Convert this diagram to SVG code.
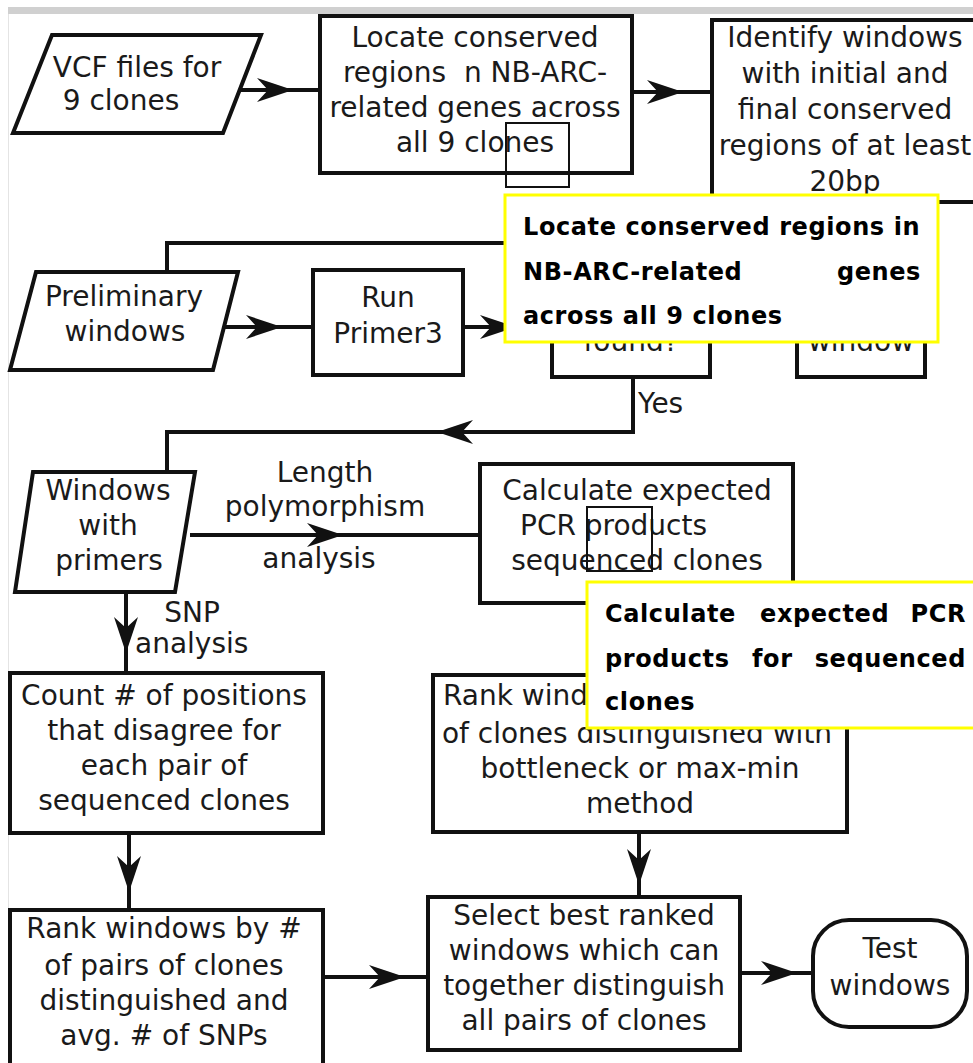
<svg xmlns="http://www.w3.org/2000/svg" xmlns:xlink="http://www.w3.org/1999/xlink" width="973" height="1063" viewBox="0 0 973 1063">
<style>
.n{fill:#fff;stroke:#111;stroke-width:4;stroke-linejoin:miter}
.t{font-family:"DejaVu Sans","Liberation Sans",sans-serif;font-size:28px;fill:#1a1a1a;text-anchor:middle}
.ts{text-anchor:start}
.c{fill:none;stroke:#111;stroke-width:4}
.hl{fill:none;stroke:#111;stroke-width:2}
.tip{fill:#fff;stroke:#ffff00;stroke-width:3}
.tt{font-family:"DejaVu Sans","Liberation Sans",sans-serif;font-weight:bold;font-size:24px;letter-spacing:0.6px;fill:#000}
.e{text-anchor:end}
</style>
<defs>
<path id="ah" d="M0,0 L-36,-12 L-25,0 L-36,12 Z" fill="#111"/>
</defs>
<rect width="973" height="1063" fill="#fff"/>
<rect x="8" y="7" width="965" height="7" fill="#d0d0d0"/>
<line x1="8.5" y1="14" x2="8.5" y2="1063" stroke="#e4e4e4" stroke-width="1"/>

<g id="connectors">
<path class="c" d="M240,90 H320"/>
<path class="c" d="M632,92 H712"/>
<path class="c" d="M847,202 V243 H167 V272"/>
<path class="c" d="M224,327 H313"/>
<path class="c" d="M463,327 H552"/>
<path class="c" d="M633,377 V432 H167 V472"/>
<path class="c" d="M190,535 H480"/>
<path class="c" d="M126,592 V673"/>
<path class="c" d="M129,833 V910"/>
<path class="c" d="M323,977 H428"/>
<path class="c" d="M639,832 V897"/>
<path class="c" d="M740,973 H813"/>
<use xlink:href="#ah" transform="translate(293,90)"/>
<use xlink:href="#ah" transform="translate(683,92)"/>
<use xlink:href="#ah" transform="translate(282,327)"/>
<use xlink:href="#ah" transform="translate(516,327)"/>
<use xlink:href="#ah" transform="translate(437,432) rotate(180)"/>
<use xlink:href="#ah" transform="translate(343,535)"/>
<use xlink:href="#ah" transform="translate(126,653) rotate(90)"/>
<use xlink:href="#ah" transform="translate(129,892) rotate(90)"/>
<use xlink:href="#ah" transform="translate(405,977)"/>
<use xlink:href="#ah" transform="translate(639,885) rotate(90)"/>
<use xlink:href="#ah" transform="translate(797,973)"/>
<text class="t ts" x="638" y="413">Yes</text>
<text class="t" x="325" y="482">Length</text>
<text class="t" x="325" y="516">polymorphism</text>
<text class="t" x="319" y="568">analysis</text>
<text class="t" x="192" y="622">SNP</text>
<text class="t ts" x="135" y="653">analysis</text>
</g>

<g id="vcf">
<path class="n" d="M52,35 L261,35 L223,133 L13,133 Z"/>
<text class="t" x="137" y="77">VCF files for</text>
<text class="t" x="121" y="110">9 clones</text>
</g>

<g id="locate">
<rect class="n" x="320" y="16" width="312" height="157"/>
<text class="t" x="475" y="47">Locate conserved</text>
<text class="t" x="475" y="82" xml:space="preserve">regions  n NB-ARC-</text>
<text class="t" x="475" y="117">related genes across</text>
<text class="t" x="475" y="152">all 9 clones</text>
</g>

<g id="identify">
<rect class="n" x="712" y="20" width="300" height="182"/>
<text class="t" x="845" y="47">Identify windows</text>
<text class="t" x="845" y="83">with initial and</text>
<text class="t" x="845" y="119">final conserved</text>
<text class="t" x="845" y="155">regions of at least</text>
<text class="t" x="845" y="191">20bp</text>
</g>

<g id="preliminary">
<path class="n" d="M36,272 L238,272 L213,370 L10,370 Z"/>
<text class="t" x="124" y="306">Preliminary</text>
<text class="t" x="125" y="341">windows</text>
</g>

<g id="primer3">
<rect class="n" x="313" y="270" width="150" height="105"/>
<text class="t" x="388" y="307">Run</text>
<text class="t" x="388" y="343">Primer3</text>
</g>

<g id="found">
<rect class="n" x="552" y="290" width="158" height="87"/>
<text class="t" x="631" y="351">found?</text>
</g>

<g id="window">
<rect class="n" x="797" y="290" width="128" height="87"/>
<text class="t" x="861" y="351">window</text>
</g>

<g id="withprimers">
<path class="n" d="M33,472 L195,472 L175,592 L15,592 Z"/>
<text class="t" x="108" y="500">Windows</text>
<text class="t" x="108" y="535">with</text>
<text class="t" x="109" y="570">primers</text>
</g>

<g id="calculate">
<rect class="n" x="480" y="464" width="313" height="139"/>
<text class="t" x="637" y="500">Calculate expected</text>
<text class="t ts" x="520" y="535">PCR products</text>
<text class="t" x="637" y="570">sequenced clones</text>
</g>

<g id="count">
<rect class="n" x="10" y="673" width="313" height="160"/>
<text class="t" x="164" y="705">Count # of positions</text>
<text class="t" x="164" y="740">that disagree for</text>
<text class="t" x="164" y="775">each pair of</text>
<text class="t" x="164" y="810">sequenced clones</text>
</g>

<g id="rankright">
<rect class="n" x="433" y="675" width="414" height="157"/>
<text class="t ts" x="443" y="705">Rank wind</text>
<text class="t" x="637" y="743">of clones distinguished with</text>
<text class="t" x="640" y="778">bottleneck or max-min</text>
<text class="t" x="640" y="813">method</text>
</g>

<g id="rankleft">
<rect class="n" x="10" y="910" width="313" height="170"/>
<text class="t" x="164" y="938">Rank windows by #</text>
<text class="t" x="164" y="975">of pairs of clones</text>
<text class="t" x="164" y="1010">distinguished and</text>
<text class="t" x="164" y="1045">avg. # of SNPs</text>
</g>

<g id="select">
<rect class="n" x="428" y="897" width="312" height="153"/>
<text class="t" x="584" y="925">Select best ranked</text>
<text class="t" x="584" y="960">windows which can</text>
<text class="t" x="584" y="995">together distinguish</text>
<text class="t" x="584" y="1030">all pairs of clones</text>
</g>

<g id="test">
<rect class="n" x="813" y="920" width="154" height="107" rx="36" ry="36"/>
<text class="t" x="890" y="958">Test</text>
<text class="t" x="890" y="995">windows</text>
</g>

<g id="highlight1">
<rect class="hl" x="506" y="123" width="63" height="64"/>
</g>
<g id="highlight2">
<rect class="hl" x="587" y="507" width="65" height="64"/>
</g>

<g id="tooltip1">
<rect class="tip" x="505" y="195" width="433" height="147"/>
<text class="tt" x="523" y="235">Locate conserved regions in</text>
<text class="tt" x="523" y="280">NB-ARC-related</text>
<text class="tt e" x="921" y="280">genes</text>
<text class="tt" x="523" y="324">across all 9 clones</text>
</g>

<g id="tooltip2">
<rect class="tip" x="587" y="582" width="420" height="146"/>
<text class="tt" x="605" y="622">Calculate</text>
<text class="tt" x="760" y="622">expected</text>
<text class="tt e" x="966" y="622">PCR</text>
<text class="tt" x="605" y="667">products</text>
<text class="tt" x="752" y="667">for</text>
<text class="tt e" x="966" y="667">sequenced</text>
<text class="tt" x="605" y="710">clones</text>
</g>
</svg>
